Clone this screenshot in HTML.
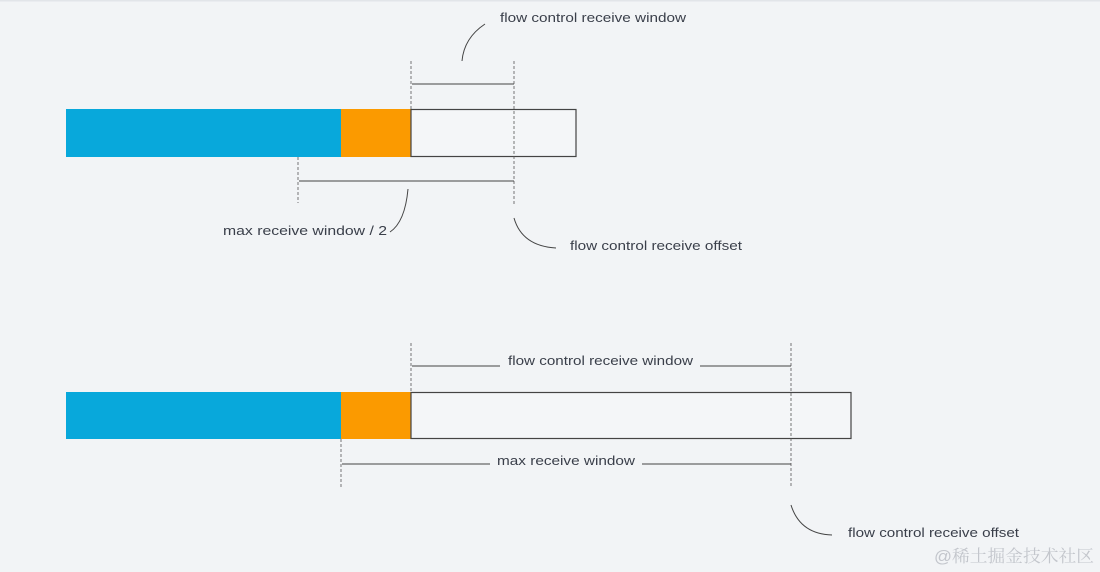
<!DOCTYPE html>
<html><head><meta charset="utf-8"><style>
html,body{margin:0;padding:0;background:#f2f4f6;}
svg{display:block}
text{font-family:"Liberation Sans",sans-serif;font-size:13px;fill:#3a3f4a;}
</style></head><body>
<svg width="1100" height="572" viewBox="0 0 1100 572" xmlns="http://www.w3.org/2000/svg">
<rect width="1100" height="572" fill="#f2f4f6"/>
<rect x="0" y="0" width="1100" height="1.5" fill="#e2e5e9"/>
<rect x="66" y="109" width="275" height="48" fill="#08a8db"/>
<rect x="341" y="109" width="70" height="48" fill="#fb9a00"/>
<rect x="411" y="109.5" width="165" height="47" fill="#f4f6f8" stroke="#444" stroke-width="1.2"/>
<g stroke="#555" stroke-width="0.8" stroke-dasharray="3,2" fill="none">
<line x1="411" y1="61" x2="411" y2="109"/>
<line x1="514" y1="61" x2="514" y2="205"/>
<line x1="298" y1="157" x2="298" y2="203"/>
</g>
<g stroke="#444" stroke-width="1" fill="none">
<line x1="412" y1="84" x2="514" y2="84"/>
<line x1="299" y1="181" x2="514" y2="181"/>
<path d="M462,61 Q464,38 485,24"/>
<path d="M408,189 Q405,222 390,232"/>
<path d="M514,218 Q522,246 556,248"/>
</g>
<text x="500" y="22" textLength="186" lengthAdjust="spacingAndGlyphs">flow control receive window</text>
<text x="223" y="235" textLength="164" lengthAdjust="spacingAndGlyphs">max receive window / 2</text>
<text x="570" y="250" textLength="172" lengthAdjust="spacingAndGlyphs">flow control receive offset</text>
<rect x="66" y="392" width="275" height="47" fill="#08a8db"/>
<rect x="341" y="392" width="70" height="47" fill="#fb9a00"/>
<rect x="411" y="392.5" width="440" height="46" fill="#f4f6f8" stroke="#444" stroke-width="1.2"/>
<g stroke="#555" stroke-width="0.8" stroke-dasharray="3,2" fill="none">
<line x1="411" y1="343" x2="411" y2="392"/>
<line x1="791" y1="343" x2="791" y2="488"/>
<line x1="341" y1="439" x2="341" y2="487"/>
</g>
<g stroke="#444" stroke-width="1" fill="none">
<line x1="412" y1="366" x2="500" y2="366"/>
<line x1="700" y1="366" x2="791" y2="366"/>
<line x1="342" y1="464" x2="490" y2="464"/>
<line x1="642" y1="464" x2="791" y2="464"/>
<path d="M791,505 Q800,534 832,535"/>
</g>
<text x="508" y="365" textLength="185" lengthAdjust="spacingAndGlyphs">flow control receive window</text>
<text x="497" y="465" textLength="138" lengthAdjust="spacingAndGlyphs">max receive window</text>
<text x="848" y="537" textLength="171" lengthAdjust="spacingAndGlyphs">flow control receive offset</text>
<text x="934" y="562" textLength="160" lengthAdjust="spacingAndGlyphs" style="font-family:'Liberation Sans','Noto Serif CJK SC',serif;font-size:17px;fill:#c3c6cc">@稀土掘金技术社区</text>
</svg>
</body></html>
